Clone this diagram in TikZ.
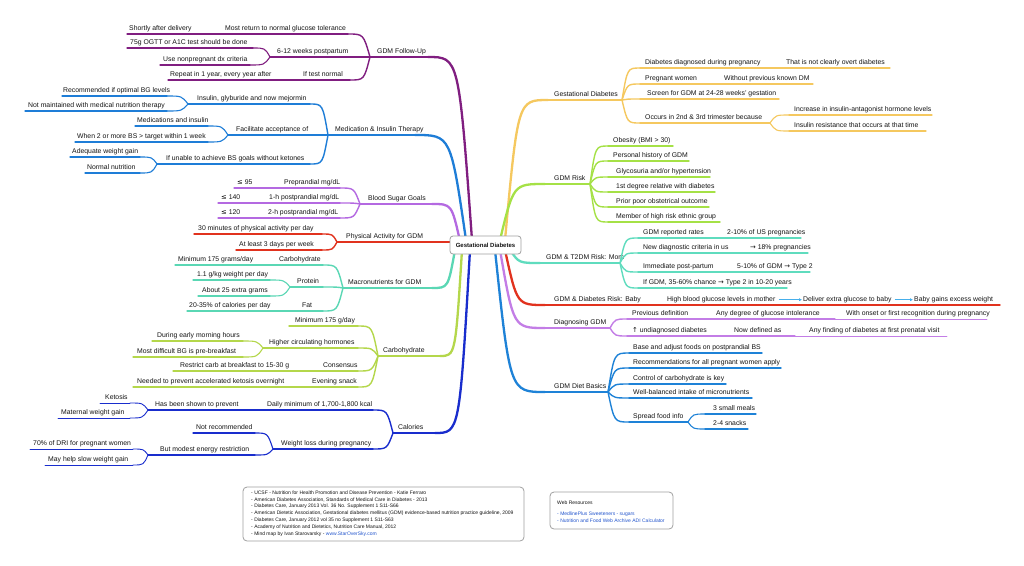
\documentclass[tikz,border=0pt]{standalone}
\usepackage{fontspec}
\setmainfont{Liberation Sans}
\newfontfamily\symf{DejaVu Sans}
\usetikzlibrary{calc,arrows.meta}
\definecolor{txt}{RGB}{20,20,20}
\definecolor{cFol}{RGB}{128,30,128}
\definecolor{cMed}{RGB}{30,125,215}
\definecolor{cBSG}{RGB}{180,105,225}
\definecolor{cPA}{RGB}{225,50,30}
\definecolor{cMac}{RGB}{90,215,180}
\definecolor{cCarb}{RGB}{180,215,75}
\definecolor{cCal}{RGB}{25,45,205}
\definecolor{cGD}{RGB}{245,200,95}
\definecolor{cRisk}{RGB}{165,225,70}
\definecolor{cMom}{RGB}{95,220,190}
\definecolor{cBaby}{RGB}{225,50,30}
\definecolor{cDiag}{RGB}{195,125,230}
\definecolor{cDiet}{RGB}{30,130,215}
\definecolor{cArrow}{RGB}{70,175,235}
\definecolor{cLink}{RGB}{35,85,205}
\definecolor{cBox}{RGB}{160,160,160}
\newcommand\mmbr[7]{%
  \coordinate (#1-l) at (#3,#5);
  \coordinate (#1-r) at (#4,#5);
  \draw[#2] (#1-l) -- (#1-r);
  \node[lab,anchor=base west] (#1) at (#6,#5-3.5) {#7};}
\newcommand\mmcn[3]{\draw[#1] (#2) .. controls ($(#2)!0.7!(#3|-#2)$) .. (#3);}
\begin{document}
\begin{tikzpicture}[x=1pt,y=-1pt,
  lab/.style={inner sep=0pt,text=txt,font=\fontsize{6.85}{7.5}\selectfont},
  l1/.style={line width=2.3pt,line cap=round},
  l2/.style={line width=1.4pt,line cap=round},
  l3/.style={line width=1.1pt,line cap=round},
  l4/.style={line width=0.9pt,line cap=round},
  arr/.style={draw=cArrow,line width=0.9pt,-{Triangle[length=2.8pt,width=2.8pt,fill=cArrow]}},
  centre/.style={draw=cBox,fill=white,rounded corners=3pt,line width=0.8pt,minimum width=71pt,minimum height=18pt,inner sep=1pt,font=\bfseries\fontsize{6}{7}\selectfont,text=txt},
  refbox/.style={draw=cBox,rounded corners=4pt,line width=0.8pt,fill=white},
  reftext/.style={inner sep=0pt,text=txt,font=\fontsize{5}{6.8}\selectfont,align=left}]
\useasboundingbox (0,0) rectangle (1024,565);
\fill[white] (0,0) rectangle (1024,565);

% centre anchor points
\coordinate (cFU) at (472,240);
\coordinate (cMD) at (466,240);
\coordinate (cBS) at (460,241);
\coordinate (cMC) at (455,250);
\coordinate (cCB) at (462,250);
\coordinate (cCL) at (470,250);
\coordinate (cGDp) at (505,240);
\coordinate (cRK) at (500,240);
\coordinate (cMM) at (510,250);
\coordinate (cBB) at (505,250);
\coordinate (cDG) at (500,250);
\coordinate (cDT) at (495,250);

%% ---------- GDM & Diabetes Risk: Baby ----------
\mmbr{baby}{l1,cBaby}{545}{660}{305}{554}{GDM \& Diabetes Risk: Baby}
\mmbr{baby1}{l2,cBaby}{660}{1000}{305}{667}{High blood glucose levels in mother}
\node[lab,anchor=base west] (baby2) at (803,301.5) {Deliver extra glucose to baby};
\node[lab,anchor=base west] (baby3) at (914,301.5) {Baby gains excess weight};
\draw[arr] ([xshift=3pt]baby1.east) -- ([xshift=-1.2pt]baby2.west);
\draw[arr] ([xshift=3pt]baby2.east) -- ([xshift=-1.2pt]baby3.west);
\mmcn{l1,cBaby}{baby-l}{cBB}

%% ---------- GDM Follow-Up ----------
\mmbr{fu}{l1,cFol}{370}{428}{57}{377}{GDM Follow-Up}
\mmbr{fu1}{l2,cFol}{222}{348}{34}{225}{Most return to normal glucose tolerance}
\mmbr{fu1a}{l3,cFol}{127}{222}{34}{129}{Shortly after delivery}
\mmbr{fu2}{l2,cFol}{270}{370}{57}{277}{6-12 weeks postpartum}
\mmbr{fu2a}{l3,cFol}{127}{253}{48}{130}{75g OGTT or A1C test should be done}
\mmbr{fu2b}{l3,cFol}{160}{250}{65}{163}{Use nonpregnant dx criteria}
\mmbr{fu3}{l2,cFol}{280}{350}{80}{303}{If test normal}
\mmbr{fu3a}{l3,cFol}{168}{280}{80}{170}{Repeat in 1 year, every year after}
\mmcn{l2,cFol}{fu1-r}{fu-l}
\mmcn{l2,cFol}{fu3-r}{fu-l}
\mmcn{l3,cFol}{fu2a-r}{fu2-l}
\mmcn{l3,cFol}{fu2b-r}{fu2-l}
\mmcn{l1,cFol}{fu-r}{cFU}

%% ---------- Medication ----------
\mmbr{med}{l1,cMed}{328}{415}{135}{335}{Medication \& Insulin Therapy}
\mmbr{med1}{l2,cMed}{188}{310}{104}{197}{Insulin, glyburide and now mejormin}
\mmbr{med1a}{l3,cMed}{62}{167}{96}{63}{Recommended if optimal BG levels}
\mmbr{med1b}{l3,cMed}{25}{167}{111}{28}{Not maintained with medical nutrition therapy}
\mmbr{med2}{l2,cMed}{228}{328}{135}{236}{Facilitate acceptance of}
\mmbr{med2a}{l3,cMed}{135}{208}{126}{137}{Medications and insulin}
\mmbr{med2b}{l3,cMed}{75}{208}{142}{77}{When 2 or more BS > target within 1 week}
\mmbr{med3}{l2,cMed}{157}{310}{164}{166}{If unable to achieve BS goals without ketones}
\mmbr{med3a}{l3,cMed}{70}{140}{157}{72}{Adequate weight gain}
\mmbr{med3b}{l3,cMed}{85}{140}{173}{87}{Normal nutrition}
\mmcn{l2,cMed}{med1-r}{med-l}
\mmcn{l2,cMed}{med3-r}{med-l}
\mmcn{l3,cMed}{med1a-r}{med1-l}
\mmcn{l3,cMed}{med1b-r}{med1-l}
\mmcn{l3,cMed}{med2a-r}{med2-l}
\mmcn{l3,cMed}{med2b-r}{med2-l}
\mmcn{l3,cMed}{med3a-r}{med3-l}
\mmcn{l3,cMed}{med3b-r}{med3-l}
\mmcn{l1,cMed}{med-r}{cMD}

%% ---------- Blood Sugar Goals ----------
\mmbr{bsg}{l1,cBSG}{360}{432}{204}{368}{Blood Sugar Goals}
\mmbr{bsg1}{l2,cBSG}{256}{340}{188}{284}{Preprandial mg/dL}
\mmbr{bsg1a}{l3,cBSG}{234}{256}{188}{237}{{\symf ≤} 95}
\mmbr{bsg2}{l2,cBSG}{245}{340}{203}{269}{1-h postprandial mg/dL}
\mmbr{bsg2a}{l3,cBSG}{218}{245}{203}{221}{{\symf ≤} 140}
\mmbr{bsg3}{l2,cBSG}{245}{340}{218}{268}{2-h postprandial mg/dL}
\mmbr{bsg3a}{l3,cBSG}{218}{245}{218}{221}{{\symf ≤} 120}
\mmcn{l2,cBSG}{bsg1-r}{bsg-l}
\mmcn{l2,cBSG}{bsg2-r}{bsg-l}
\mmcn{l2,cBSG}{bsg3-r}{bsg-l}
\mmcn{l1,cBSG}{bsg-r}{cBS}

%% ---------- Physical Activity ----------
\mmbr{pa}{l1,cPA}{337}{458}{242}{346}{Physical Activity for GDM}
\mmbr{pa1}{l2,cPA}{194}{322}{234}{198}{30 minutes of physical activity per day}
\mmbr{pa2}{l2,cPA}{236}{322}{250}{239}{At least 3 days per week}
\mmcn{l2,cPA}{pa1-r}{pa-l}
\mmcn{l2,cPA}{pa2-r}{pa-l}

%% ---------- Macronutrients ----------
\mmbr{mac}{l1,cMac}{343}{432}{288}{348}{Macronutrients for GDM}
\mmbr{mac1}{l2,cMac}{255}{323}{265}{279}{Carbohydrate}
\mmbr{mac1a}{l3,cMac}{175}{255}{265}{178}{Minimum 175 grams/day}
\mmbr{mac2}{l2,cMac}{290}{323}{287}{297}{Protein}
\mmbr{mac2a}{l3,cMac}{193}{270}{280}{197}{1.1 g/kg weight per day}
\mmbr{mac2b}{l3,cMac}{198}{270}{296}{202}{About 25 extra grams}
\mmbr{mac3}{l2,cMac}{280}{323}{311}{302}{Fat}
\mmbr{mac3a}{l3,cMac}{187}{280}{311}{189}{20-35\% of calories per day}
\mmcn{l2,cMac}{mac1-r}{mac-l}
\mmcn{l2,cMac}{mac2-r}{mac-l}
\mmcn{l2,cMac}{mac3-r}{mac-l}
\mmcn{l3,cMac}{mac2a-r}{mac2-l}
\mmcn{l3,cMac}{mac2b-r}{mac2-l}
\mmcn{l1,cMac}{mac-r}{cMC}

%% ---------- Carbohydrate ----------
\mmbr{carb}{l1,cCarb}{378}{440}{356}{383}{Carbohydrate}
\mmbr{carb1}{l2,cCarb}{289}{358}{326}{295}{Minimum 175 g/day}
\mmbr{carb2}{l2,cCarb}{263}{358}{348}{269}{Higher circulating hormones}
\mmbr{carb2a}{l3,cCarb}{152}{243}{341}{157}{During early morning hours}
\mmbr{carb2b}{l3,cCarb}{133}{243}{357}{137}{Most difficult BG is pre-breakfast}
\mmbr{carb3}{l2,cCarb}{310}{358}{371}{323}{Consensus}
\mmbr{carb3a}{l3,cCarb}{173}{310}{371}{180}{Restrict carb at breakfast to 15-30 g}
\mmbr{carb4}{l2,cCarb}{297}{358}{387}{312}{Evening snack}
\mmbr{carb4a}{l3,cCarb}{133}{297}{387}{137}{Needed to prevent accelerated ketosis overnight}
\mmcn{l2,cCarb}{carb1-r}{carb-l}
\mmcn{l2,cCarb}{carb2-r}{carb-l}
\mmcn{l2,cCarb}{carb3-r}{carb-l}
\mmcn{l2,cCarb}{carb4-r}{carb-l}
\mmcn{l3,cCarb}{carb2a-r}{carb2-l}
\mmcn{l3,cCarb}{carb2b-r}{carb2-l}
\mmcn{l1,cCarb}{carb-r}{cCB}

%% ---------- Calories ----------
\mmbr{cal}{l1,cCal}{393}{435}{433}{398}{Calories}
\mmbr{cal1}{l2,cCal}{250}{373}{410}{267}{Daily minimum of 1,700-1,800 kcal}
\mmbr{cal1a}{l3,cCal}{148}{250}{410}{155}{Has been shown to prevent}
\mmbr{cal1a1}{l4,cCal}{100}{130}{403}{105}{Ketosis}
\mmbr{cal1a2}{l4,cCal}{58}{130}{418}{61}{Maternal weight gain}
\mmbr{cal2}{l2,cCal}{273}{373}{449}{281}{Weight loss during pregnancy}
\mmbr{cal2a}{l3,cCal}{193}{255}{433}{196}{Not recommended}
\mmbr{cal2b}{l3,cCal}{148}{255}{455}{160}{But modest energy restriction}
\mmbr{cal2b1}{l4,cCal}{30}{133}{449}{33}{70\% of DRI for pregnant women}
\mmbr{cal2b2}{l4,cCal}{45}{133}{465}{48}{May help slow weight gain}
\mmcn{l2,cCal}{cal1-r}{cal-l}
\mmcn{l2,cCal}{cal2-r}{cal-l}
\mmcn{l4,cCal}{cal1a1-r}{cal1a-l}
\mmcn{l4,cCal}{cal1a2-r}{cal1a-l}
\mmcn{l3,cCal}{cal2a-r}{cal2-l}
\mmcn{l3,cCal}{cal2b-r}{cal2-l}
\mmcn{l4,cCal}{cal2b1-r}{cal2b-l}
\mmcn{l4,cCal}{cal2b2-r}{cal2b-l}
\mmcn{l1,cCal}{cal-r}{cCL}

%% ---------- Gestational Diabetes (right) ----------
\mmbr{gd}{l1,cGD}{548}{622}{100}{554}{Gestational Diabetes}
\mmbr{gd1}{l2,cGD}{640}{783}{68}{645}{Diabetes diagnosed during pregnancy}
\mmbr{gd1a}{l3,cGD}{783}{890}{68}{786}{That is not clearly overt diabetes}
\mmbr{gd2}{l2,cGD}{640}{718}{84}{645}{Pregnant women}
\mmbr{gd2a}{l3,cGD}{718}{813}{84}{724}{Without previous known DM}
\mmbr{gd3}{l2,cGD}{640}{779}{99}{647}{Screen for GDM at 24-28 weeks' gestation}
\mmbr{gd4}{l2,cGD}{640}{770}{123}{645}{Occurs in 2nd \& 3rd trimester because}
\mmbr{gd4a}{l3,cGD}{789}{932}{115}{794}{Increase in insulin-antagonist hormone levels}
\mmbr{gd4b}{l3,cGD}{789}{926}{131}{794}{Insulin resistance that occurs at that time}
\mmcn{l2,cGD}{gd1-l}{gd-r}
\mmcn{l2,cGD}{gd2-l}{gd-r}
\mmcn{l2,cGD}{gd3-l}{gd-r}
\mmcn{l2,cGD}{gd4-l}{gd-r}
\mmcn{l3,cGD}{gd4a-l}{gd4-r}
\mmcn{l3,cGD}{gd4b-l}{gd4-r}
\mmcn{l1,cGD}{gd-l}{cGDp}

%% ---------- GDM Risk ----------
\mmbr{risk}{l1,cRisk}{545}{590}{184}{554}{GDM Risk}
\mmbr{risk1}{l2,cRisk}{608}{673}{146}{613}{Obesity (BMI > 30)}
\mmbr{risk2}{l2,cRisk}{608}{689}{161}{613}{Personal history of GDM}
\mmbr{risk3}{l2,cRisk}{608}{710}{177}{616}{Glycosuria and/or hypertension}
\mmbr{risk4}{l2,cRisk}{608}{715}{192}{616}{1st degree relative with diabetes}
\mmbr{risk5}{l2,cRisk}{608}{709}{207}{616}{Prior poor obstetrical outcome}
\mmbr{risk6}{l2,cRisk}{608}{720}{222}{616}{Member of high risk ethnic group}
\mmcn{l2,cRisk}{risk1-l}{risk-r}
\mmcn{l2,cRisk}{risk2-l}{risk-r}
\mmcn{l2,cRisk}{risk3-l}{risk-r}
\mmcn{l2,cRisk}{risk4-l}{risk-r}
\mmcn{l2,cRisk}{risk5-l}{risk-r}
\mmcn{l2,cRisk}{risk6-l}{risk-r}
\mmcn{l1,cRisk}{risk-l}{cRK}

%% ---------- GDM & T2DM Risk: Mom ----------
\mmbr{mom}{l1,cMom}{540}{620}{263}{546}{GDM \& T2DM Risk: Mom}
\mmbr{mom1}{l2,cMom}{638}{720}{238}{643}{GDM reported rates}
\mmbr{mom1a}{l3,cMom}{720}{801}{238}{727}{2-10\% of US pregnancies}
\mmbr{mom2}{l2,cMom}{638}{740}{253}{643}{New diagnostic criteria in us}
\mmbr{mom2a}{l3,cMom}{740}{808}{253}{750}{{\symf →} 18\% pregnancies}
\mmbr{mom3}{l2,cMom}{638}{728}{272}{643}{Immediate post-partum}
\mmbr{mom3a}{l3,cMom}{728}{810}{272}{737}{5-10\% of GDM {\symf →} Type 2}
\mmbr{mom4}{l2,cMom}{638}{787}{288}{643}{If GDM, 35-60\% chance {\symf →} Type 2 in 10-20 years}
\mmcn{l2,cMom}{mom1-l}{mom-r}
\mmcn{l2,cMom}{mom2-l}{mom-r}
\mmcn{l2,cMom}{mom3-l}{mom-r}
\mmcn{l2,cMom}{mom4-l}{mom-r}
\mmcn{l1,cMom}{mom-l}{cMM}

%% ---------- Diagnosing GDM ----------
\mmbr{diag}{l1,cDiag}{545}{610}{328}{554}{Diagnosing GDM}
\mmbr{diag1}{l2,cDiag}{627}{705}{319}{632}{Previous definition}
\mmbr{diag1a}{l3,cDiag}{705}{835}{319}{716}{Any degree of glucose intolerance}
\mmbr{diag1b}{l4,cDiag}{835}{987}{319}{846}{With onset or first recognition during pregnancy}
\mmbr{diag2}{l2,cDiag}{627}{722}{336}{632}{{\symf ↑} undiagnosed diabetes}
\mmbr{diag2a}{l3,cDiag}{722}{795}{336}{734}{Now defined as}
\mmbr{diag2b}{l4,cDiag}{795}{947}{336}{809}{Any finding of diabetes at first prenatal visit}
\mmcn{l2,cDiag}{diag1-l}{diag-r}
\mmcn{l2,cDiag}{diag2-l}{diag-r}
\mmcn{l1,cDiag}{diag-l}{cDG}

%% ---------- GDM Diet Basics ----------
\mmbr{diet}{l1,cDiet}{545}{608}{392}{554}{GDM Diet Basics}
\mmbr{diet1}{l2,cDiet}{629}{762}{353}{633}{Base and adjust foods on postprandial BS}
\mmbr{diet2}{l2,cDiet}{629}{781}{368}{633}{Recommendations for all pregnant women apply}
\mmbr{diet3}{l2,cDiet}{629}{726}{384}{633}{Control of carbohydrate is key}
\mmbr{diet4}{l2,cDiet}{629}{752}{398}{633}{Well-balanced intake of micronutrients}
\mmbr{diet5}{l2,cDiet}{629}{688}{422}{633}{Spread food info}
\mmbr{diet5a}{l3,cDiet}{705}{756}{414}{713}{3 small meals}
\mmbr{diet5b}{l3,cDiet}{705}{748}{429}{713}{2-4 snacks}
\mmcn{l2,cDiet}{diet1-l}{diet-r}
\mmcn{l2,cDiet}{diet2-l}{diet-r}
\mmcn{l2,cDiet}{diet3-l}{diet-r}
\mmcn{l2,cDiet}{diet4-l}{diet-r}
\mmcn{l2,cDiet}{diet5-l}{diet-r}
\mmcn{l3,cDiet}{diet5a-l}{diet5-r}
\mmcn{l3,cDiet}{diet5b-l}{diet5-r}
\mmcn{l1,cDiet}{diet-l}{cDT}

%% ---------- centre ----------
\node[centre] (ctr) at (485.5,245) {Gestational Diabetes};

%% ---------- references ----------
\draw[refbox] (243,487) rectangle (524,541);
\node[reftext,anchor=north west] (refs) at (251,490.5) {%
- UCSF - Nutrition for Health Promotion and Disease Prevention - Katie Ferraro\\
- American Diabetes Association, Standards of Medical Care in Diabetes - 2013\\
- Diabetes Care, January 2013 Vol. 36 No. Supplement 1 S11-S66\\
- American Dietetic Association, Gestational diabetes mellitus (GDM) evidence-based nutrition practice guideline, 2009\\
- Diabetes Care, January 2012 vol 35 no Supplement 1 S11-S63\\
- Academy of Nutrition and Dietetics, Nutrition Care Manual, 2012\\
- Mind map by Ivan Starovarsky - \textcolor{cLink}{www.StarOverSky.com}};

\draw[refbox] (550,492) rectangle (673,529);
\node[reftext,anchor=base west] (webt) at (557,504) {Web Resources};
\node[reftext,anchor=base west] (web1) at (557,515.5) {\textcolor{cLink}{- MedlinePlus Sweeteners - sugars}};
\node[reftext,anchor=base west] (web2) at (557,522.5) {\textcolor{cLink}{- Nutrition and Food Web Archive ADI Calculator}};
\end{tikzpicture}
\end{document}
